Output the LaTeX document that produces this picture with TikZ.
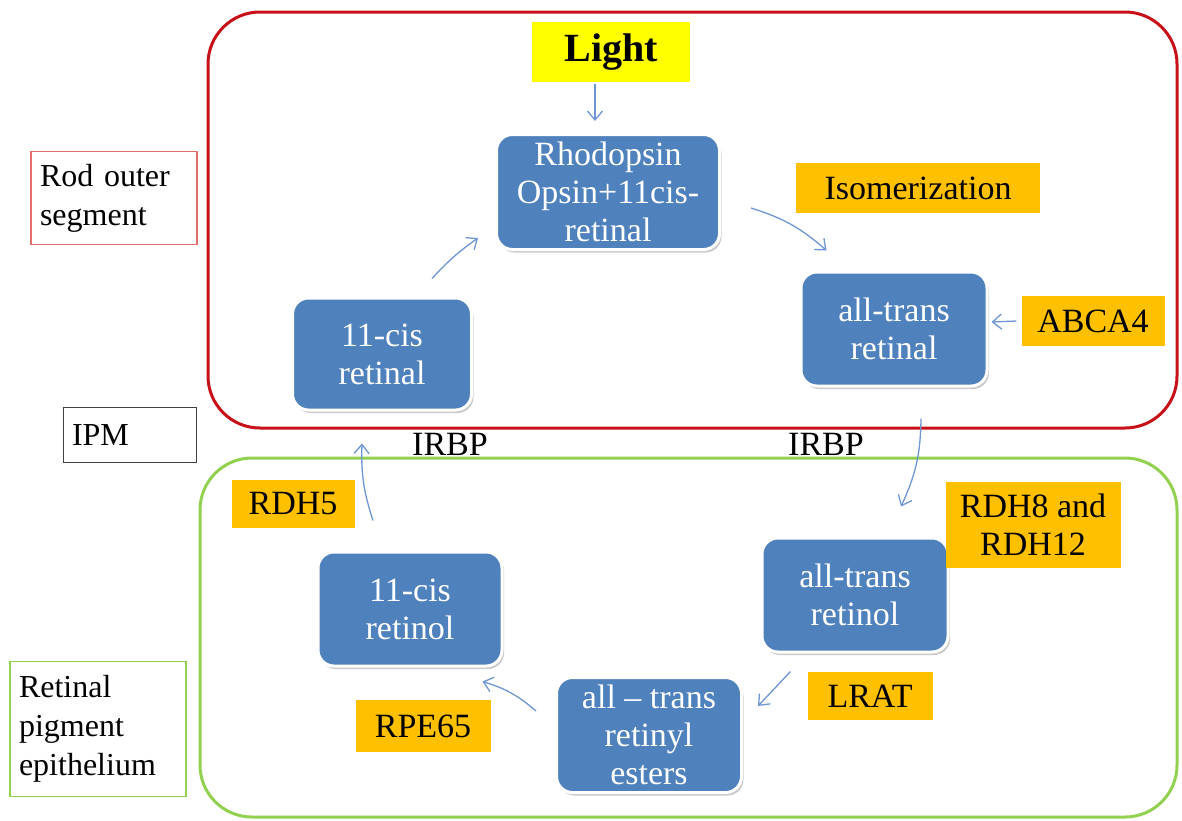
\documentclass[tikz,border=0pt]{standalone}
\usepackage{fontspec}
\setmainfont{Liberation Serif}
\usetikzlibrary{arrows.meta,shadows,calc}

\definecolor{stepblue}{RGB}{79,129,189}
\definecolor{arrowblue}{RGB}{110,150,210}
\definecolor{enzyme}{RGB}{255,192,0}
\definecolor{lightyel}{RGB}{255,255,0}
\definecolor{rosred}{RGB}{200,16,24}
\definecolor{rpegreen}{RGB}{146,208,80}
\definecolor{roslabel}{RGB}{226,110,110}

\tikzset{
  stagebox/.style={draw=white, line width=3pt, fill=stepblue, rounded corners=16pt,
    text=white, align=center, inner sep=0pt,
    font=\fontsize{34}{38}\selectfont,
    drop shadow={shadow xshift=2pt, shadow yshift=-3pt, fill=black!35, opacity=0.6}},
  enzbox/.style={fill=enzyme, inner sep=0pt, align=center,
    font=\fontsize{34}{38}\selectfont},
  sidebox/.style={draw, line width=1.2pt, inner sep=0pt, align=left,
    font=\fontsize{32}{39}\selectfont},
  region/.style={line width=3pt, rounded corners=52pt},
  arr/.style={draw=arrowblue, line width=1.3pt,
    -{Straight Barb[length=9pt,width=15pt,line width=1.3pt]}},
  plain/.style={font=\fontsize{34}{38}\selectfont, inner sep=0pt}
}

\begin{document}
\begin{tikzpicture}[x=1pt,y=-1pt]
\useasboundingbox (0,0) rectangle (1182,820);

% compartments
\draw[region, draw=rosred] (208,12) rectangle (1177,428);
\draw[region, draw=rpegreen] (200,458) rectangle (1177,817);

% compartment labels
\node[sidebox, draw=roslabel, minimum width=166pt, minimum height=93pt,
      text width=148pt] (ros) at (114,198) {Rod outer\\segment};
\node[sidebox, draw=black!75, minimum width=133pt, minimum height=55pt,
      text width=116pt] (ipm) at (130,435) {IPM};
\node[sidebox, draw=rpegreen, minimum width=176pt, minimum height=135pt,
      text width=158pt] (rpe) at (98,729) {Retinal\\pigment\\epithelium};

% light input
\node[fill=lightyel, minimum width=158pt, minimum height=60pt, inner sep=0pt,
      font=\fontsize{40}{44}\selectfont\bfseries] (light) at (611,52) {Light};

% visual cycle intermediates
\node[stagebox, minimum width=223pt, minimum height=115pt] (rho) at (608,192)
  {Rhodopsin\\Opsin+11cis-\\retinal};
\node[stagebox, minimum width=186pt, minimum height=114pt] (atral) at (894,329)
  {all-trans\\retinal};
\node[stagebox, minimum width=179pt, minimum height=112pt] (cisral) at (382,354)
  {11-cis\\retinal};
\node[stagebox, minimum width=186pt, minimum height=114pt] (atrol) at (855,595)
  {all-trans\\retinol};
\node[stagebox, minimum width=184pt, minimum height=114pt] (cisrol) at (410,609)
  {11-cis\\retinol};
\node[stagebox, minimum width=185pt, minimum height=115pt] (esters) at (649,735)
  {all -- trans\\retinyl\\esters};

% enzymes and processes
\node[enzbox, minimum width=244pt, minimum height=50pt] (iso) at (918,188) {Isomerization};
\node[enzbox, minimum width=143pt, minimum height=50pt] (abca4) at (1093,321) {ABCA4};
\node[enzbox, minimum width=175pt, minimum height=86pt] (rdh) at (1033,525) {RDH8 and\\RDH12};
\node[enzbox, minimum width=123pt, minimum height=48pt] (rdh5) at (293,504) {RDH5};
\node[enzbox, minimum width=125pt, minimum height=48pt] (lrat) at (870,696) {LRAT};
\node[enzbox, minimum width=135pt, minimum height=52pt] (rpe65) at (423,726) {RPE65};

% transport protein
\node[plain] (irbpl) at (450,444) {IRBP};
\node[plain] (irbpr) at (826,444) {IRBP};

% reactions
\draw[arr] ([xshift=-16pt]light.south) ++(0,2) -- ($(rho.north)+(-13,-12)$);
\draw[arr] ($(rho.east)+(30,16)$) to[bend left=12] ($(atral.north west)+(27,-20)$);
\draw[arr] ($(abca4.west)+(-5,0)$) -- ($(atral.east)+(3,-7)$);
\draw[arr] ($(atral.south)+(27,31)$) to[bend left=12] ($(atrol.north)+(46,-30)$);
\draw[arr] ($(atrol.south west)+(30,18)$) -- ($(esters.north east)+(15,30)$);
\draw[arr] ($(esters.north west)+(-19,35)$) to[bend right=12] ($(cisrol.south east)+(-21,14)$);
\draw[arr] ($(cisrol.north)+(-37,-30)$) to[bend left=10] ($(cisral.south)+(-20,32)$);
\draw[arr] ($(cisral.north)+(50,-18)$) to[bend left=6] ($(rho.west)+(-17,46)$);
\end{tikzpicture}
\end{document}
